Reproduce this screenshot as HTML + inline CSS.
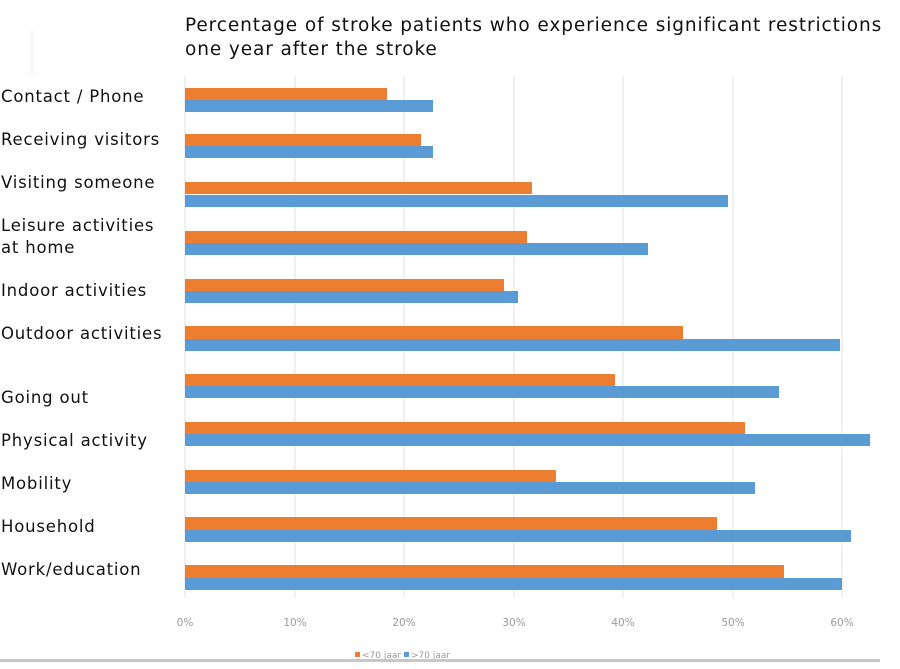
<!DOCTYPE html>
<html><head><style>
body{margin:0;background:#fff;}
svg text{font-family:"DejaVu Sans","Liberation Sans",sans-serif;}
</style></head><body>
<svg width="900" height="664" xmlns="http://www.w3.org/2000/svg">
<rect width="900" height="664" fill="#fff"/>
<line x1="32" y1="30" x2="32" y2="76" stroke="#eee" stroke-width="1"/>
<text x="185" y="31" font-size="18.5" letter-spacing="0.9" fill="#111">Percentage of stroke patients who experience significant restrictions</text>
<text x="185" y="55" font-size="18.5" letter-spacing="0.9" fill="#111">one year after the stroke</text>
<g stroke="#e2e2e2" stroke-width="1">
<line x1="185" y1="76" x2="185" y2="598"/><line x1="295" y1="76" x2="295" y2="598"/><line x1="404" y1="76" x2="404" y2="598"/><line x1="514" y1="76" x2="514" y2="598"/><line x1="623" y1="76" x2="623" y2="598"/><line x1="733" y1="76" x2="733" y2="598"/><line x1="842" y1="76" x2="842" y2="598"/>
</g>
<g fill="#ed7d31">
<rect x="185" y="88" width="202" height="12"/>
<rect x="185" y="134" width="236" height="12"/>
<rect x="185" y="182" width="347" height="12"/>
<rect x="185" y="231" width="342" height="12"/>
<rect x="185" y="279" width="319" height="12"/>
<rect x="185" y="326" width="498" height="13"/>
<rect x="185" y="374" width="430" height="12"/>
<rect x="185" y="422" width="560" height="12"/>
<rect x="185" y="470" width="371" height="12"/>
<rect x="185" y="517" width="532" height="13"/>
<rect x="185" y="565" width="599" height="13"/>
</g>
<g fill="#5b9bd5">
<rect x="185" y="100" width="248" height="12"/>
<rect x="185" y="146" width="248" height="12"/>
<rect x="185" y="195" width="543" height="12"/>
<rect x="185" y="243" width="463" height="12"/>
<rect x="185" y="291" width="333" height="12"/>
<rect x="185" y="339" width="655" height="12"/>
<rect x="185" y="386" width="594" height="12"/>
<rect x="185" y="434" width="685" height="12"/>
<rect x="185" y="482" width="570" height="12"/>
<rect x="185" y="530" width="666" height="12"/>
<rect x="185" y="578" width="657" height="12"/>
</g>
<g font-size="16.5" letter-spacing="0.8" fill="#111">
<text x="1" y="102">Contact / Phone</text>
<text x="1" y="145">Receiving visitors</text>
<text x="1" y="188">Visiting someone</text>
<text x="1" y="231">Leisure activities</text>
<text x="1" y="253">at home</text>
<text x="1" y="296">Indoor activities</text>
<text x="1" y="339">Outdoor activities</text>
<text x="1" y="403">Going out</text>
<text x="1" y="446">Physical activity</text>
<text x="1" y="489">Mobility</text>
<text x="1" y="532">Household</text>
<text x="1" y="575">Work/education</text>
</g>
<g font-size="10.5" fill="#999" text-anchor="middle">
<text x="185" y="626">0%</text><text x="295" y="626">10%</text><text x="404" y="626">20%</text><text x="514" y="626">30%</text><text x="623" y="626">40%</text><text x="733" y="626">50%</text><text x="842" y="626">60%</text>
</g>
<rect x="355" y="652" width="5" height="5" fill="#ed7d31"/>
<text x="362" y="658" font-size="9" fill="#999">&lt;70 jaar</text>
<rect x="404" y="652" width="5" height="5" fill="#5b9bd5"/>
<text x="411" y="658" font-size="9" fill="#999">&gt;70 jaar</text>
<rect x="0" y="659" width="880" height="3" fill="#c8c8c8"/>
</svg>
</body></html>
